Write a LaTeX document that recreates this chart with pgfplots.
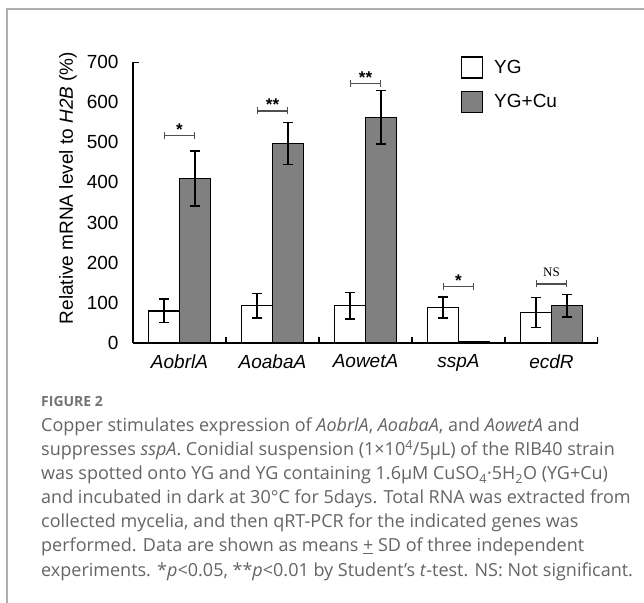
\documentclass[border=0pt]{standalone}
\usepackage{fontspec}
\setmainfont{Liberation Sans}
\newfontfamily\capfont{Open Sans}
\newfontfamily\nsfont{Liberation Serif}
\usepackage{pgfplots}
\pgfplotsset{compat=1.18}
\usetikzlibrary{arrows.meta}
\definecolor{barfill}{RGB}{128,128,128}
\definecolor{brk}{RGB}{80,80,80}
\definecolor{captxt}{RGB}{100,100,100}
\definecolor{figlbl}{RGB}{115,115,115}
\definecolor{framec}{RGB}{175,175,175}

\pgfplotstableread{
x y e
-0.1667 80 29
0.8333 93 30
1.8333 93 33
2.8333 89 26
3.8333 76 37
}\yg
\pgfplotstableread{
x y e
0.1667 410 68
1.1667 497 52
2.1667 562 67
3.1667 3 0
4.1667 93 28
}\ygcu

\begin{document}
\begin{tikzpicture}
\path[use as bounding box] (0bp,0bp) rectangle (644bp,603bp);
\draw[framec, line width=1.5bp] (7bp,0bp) -- (7bp,594bp) -- (644bp,594bp);
\begin{axis}[
 at={(133bp,260bp)}, anchor=south west,
 scale only axis, width=465bp, height=281bp,
 xmin=-0.5, xmax=4.5, ymin=0, ymax=700,
 axis x line*=bottom, axis y line*=left,
 axis line style={-, line width=1.3bp, black},
 xtick={0,1,2,3,4},
 xticklabels={\textit{AobrlA},\textit{AoabaA},\textit{AowetA},\textit{sspA},\textit{ecdR}},
 ytick={0,100,...,700},
 major tick length=0pt,
 xtick style={draw=none}, ytick style={draw=none},
 ticklabel style={font=\fontsize{19bp}{20bp}\selectfont},
 /pgf/number format/assume math mode=true,
 yticklabel style={xshift=-11bp},
 xticklabel style={yshift=-8bp},
 legend style={at={(rel axis cs:0.705,1.021)}, anchor=north west, draw=none, fill=none, inner sep=0pt,
   font=\fontsize{19bp}{20bp}\selectfont, row sep=12bp, cells={anchor=west},
   /tikz/every odd column/.append style={column sep=9bp}},
 legend image code/.code={\draw[#1, line width=1.2bp] (0bp,-10.5bp) rectangle (21bp,10.5bp);},
]
\addplot[ybar, bar width=0.3333, bar shift=0pt, fill=white, draw=black, line width=1.3bp,
 error bars/.cd, y dir=both, y explicit,
 error bar style={line width=1.6bp, black},
 error mark options={rotate=90, mark size=5bp, line width=1.6bp, black}]
 table[x=x, y=y, y error=e] {\yg};
\addlegendentry{YG}
\addplot[ybar, bar width=0.3333, bar shift=0pt, fill=barfill, draw=black, line width=1.3bp,
 error bars/.cd, y dir=both, y explicit,
 error bar style={line width=1.6bp, black},
 error mark options={rotate=90, mark size=5bp, line width=1.6bp, black}]
 table[x=x, y=y, y error=e] {\ygcu};
\addlegendentry{YG+Cu}

% group-boundary ticks and top y tick
\pgfplotsinvokeforeach{0.5,1.5,2.5,3.5,4.5}{
  \draw[black, line width=1.2bp] (axis cs:#1,0) -- ++(0bp,5.5bp);
}
\draw[black, line width=1.2bp] (axis cs:-0.5,700) -- ++(6bp,0bp);

% significance brackets
\draw[brk, line width=1.2bp, {Bar[width=7bp]}-{Bar[width=7bp]}] (axis cs:-0.1667,516) -- (axis cs:0.1667,516);
\draw[brk, line width=1.2bp, {Bar[width=7bp]}-{Bar[width=7bp]}] (axis cs:0.8333,578) -- (axis cs:1.1667,578);
\draw[brk, line width=1.2bp, {Bar[width=7bp]}-{Bar[width=7bp]}] (axis cs:1.8333,646) -- (axis cs:2.1667,646);
\draw[brk, line width=1.2bp, {Bar[width=7bp]}-{Bar[width=7bp]}] (axis cs:2.8333,140) -- (axis cs:3.1667,140);
\draw[brk, line width=1.2bp, {Bar[width=7bp]}-{Bar[width=7bp]}] (axis cs:3.8333,147) -- (axis cs:4.1667,147);
\node[anchor=base, inner sep=0pt, font=\fontsize{17bp}{17bp}\selectfont\bfseries] at (axis cs:0,516) {*};
\node[anchor=base, inner sep=0pt, font=\fontsize{17bp}{17bp}\selectfont\bfseries] at (axis cs:1,578) {**};
\node[anchor=base, inner sep=0pt, font=\fontsize{17bp}{17bp}\selectfont\bfseries] at (axis cs:2,646) {**};
\node[anchor=base, inner sep=0pt, font=\fontsize{17bp}{17bp}\selectfont\bfseries] at (axis cs:3,140) {*};
\node[anchor=base, inner sep=0pt, yshift=7bp, font=\nsfont\fontsize{13bp}{13bp}\selectfont] at (axis cs:4,147) {NS};
\end{axis}
\node[rotate=90, font=\fontsize{19bp}{20bp}\selectfont] at (68bp,415bp) {Relative mRNA level to \textit{H2B} (\%)};

\begin{scope}[every node/.style={anchor=base west, inner sep=0pt, text=captxt, font=\capfont\fontsize{18bp}{20bp}\selectfont}]
\node[text=figlbl, font=\capfont\bfseries\fontsize{14bp}{16bp}\selectfont] at (41bp,196bp) {FIGURE 2};
\node at (41bp,171bp) {Copper stimulates expression of \textit{AobrlA}, \textit{AoabaA}, and \textit{AowetA} and};
\node at (41bp,147bp) {suppresses \textit{sspA}. Conidial suspension (1×10\textsuperscript{4}/5µL) of the RIB40 strain};
\node at (41bp,123bp) {was spotted onto YG and YG containing 1.6µM CuSO\textsubscript{4}·5H\textsubscript{2}O (YG+Cu)};
\node at (41bp,99bp) {and incubated in dark at 30°C for 5days. Total RNA was extracted from};
\node at (41bp,75bp) {collected mycelia, and then qRT-PCR for the indicated genes was};
\node at (41bp,51bp) {performed. Data are shown as means \underline{+} SD of three independent};
\node at (41bp,27bp) {experiments. *\textit{p}<0.05, **\textit{p}<0.01 by Student’s \textit{t}-test. NS: Not significant.};
\end{scope}
\end{tikzpicture}
\end{document}
